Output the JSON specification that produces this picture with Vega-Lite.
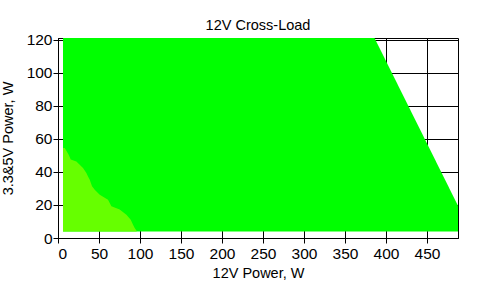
{
  "$schema": "https://vega.github.io/schema/vega-lite/v6.json",
  "width": 400,
  "height": 200,
  "autosize": {"type": "none"},
  "padding": {"left": 58, "top": 38, "right": 29, "bottom": 48},
  "background": "white",
  "title": {"text": "12V Cross-Load", "fontSize": 14.5, "font": "Liberation Sans", "fontWeight": "normal", "color": "black", "offset": -1},
  "config": {
    "view": {"stroke": "black", "strokeWidth": 1},
    "axis": {
      "domainColor": "black", "tickColor": "black", "gridColor": "black", "gridOpacity": 1, "gridWidth": 1,
      "tickSize": 5, "labelFont": "Liberation Sans", "labelFontSize": 15.5, "labelColor": "black",
      "titleFont": "Liberation Sans", "titleFontSize": 14.5, "titleFontWeight": "normal", "titleColor": "black"
    }
  },
  "datasets": {
    "main": [
      {"x": 6.1, "y": 121.2, "y0": 4},
      {"x": 386, "y": 121.2, "y0": 4},
      {"x": 487.8, "y": 19.5, "y0": 4}
    ],
    "low": [
      {"x": 6.1, "y": 54.5, "y0": 4},
      {"x": 8.2, "y": 54.5, "y0": 4},
      {"x": 10.6, "y": 52.5, "y0": 4},
      {"x": 13.0, "y": 50.5, "y0": 4},
      {"x": 15.5, "y": 47.5, "y0": 4},
      {"x": 22.4, "y": 46.4, "y0": 4},
      {"x": 26.5, "y": 44.4, "y0": 4},
      {"x": 30.5, "y": 42.4, "y0": 4},
      {"x": 34.6, "y": 39.4, "y0": 4},
      {"x": 36.6, "y": 37.3, "y0": 4},
      {"x": 38.7, "y": 35.3, "y0": 4},
      {"x": 41.5, "y": 31.3, "y0": 4},
      {"x": 44.8, "y": 29.3, "y0": 4},
      {"x": 50.9, "y": 26.2, "y0": 4},
      {"x": 61.0, "y": 23.2, "y0": 4},
      {"x": 65.1, "y": 19.2, "y0": 4},
      {"x": 75.2, "y": 17.2, "y0": 4},
      {"x": 83.4, "y": 14.1, "y0": 4},
      {"x": 88.7, "y": 11.1, "y0": 4},
      {"x": 91.5, "y": 8.1, "y0": 4},
      {"x": 93.5, "y": 6.1, "y0": 4},
      {"x": 95.6, "y": 4.6, "y0": 4},
      {"x": 96.0, "y": 4.0, "y0": 4}
    ]
  },
  "encoding": {
    "x": {"field": "x", "type": "quantitative",
      "scale": {"domain": [0, 487.8], "nice": false, "zero": false},
      "axis": {"values": [0, 50, 100, 150, 200, 250, 300, 350, 400, 450], "title": "12V Power, W", "labelPadding": 3,
        "titleX": 200, "titleY": 39.4, "titleBaseline": "alphabetic", "titleAnchor": null}},
    "y": {"field": "y", "type": "quantitative",
      "scale": {"domain": [0, 121.2], "nice": false, "zero": false},
      "axis": {"values": [0, 20, 40, 60, 80, 100, 120], "title": "3.3&5V Power, W", "labelPadding": 1,
        "titleX": -46, "titleY": 100, "titleBaseline": "alphabetic", "titleAngle": -90, "titleAlign": "center"}},
    "y2": {"field": "y0"}
  },
  "layer": [
    {"data": {"name": "main"}, "mark": {"type": "area", "color": "#00ff00", "opacity": 1}},
    {"data": {"name": "low"}, "mark": {"type": "area", "color": "#66ff00", "opacity": 1}}
  ]
}
